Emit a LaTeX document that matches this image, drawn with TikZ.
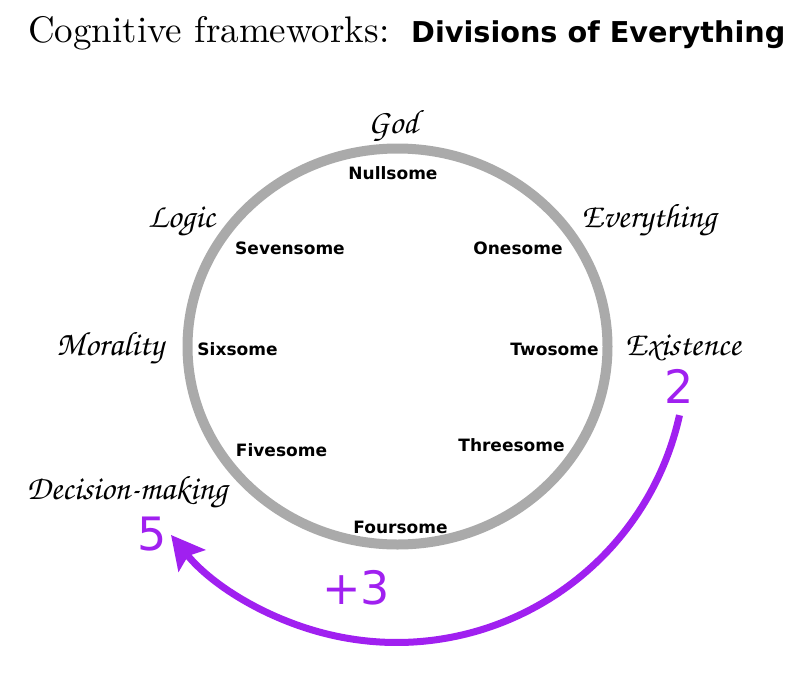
\documentclass[tikz,border=0pt]{standalone}
\usepackage[T1]{fontenc}
\usepackage{fontspec}
\usepackage{tikz}
\usetikzlibrary{arrows.meta, positioning}
\newfontfamily\dejavu{DejaVu Sans}
\newfontfamily\lmten{lmroman10-regular.otf}
\newcommand\chancery{\fontencoding{T1}\fontfamily{pzc}\fontseries{mb}\fontshape{it}\selectfont}
\definecolor{ringgray}{HTML}{AAAAAA}
\definecolor{stepviolet}{HTML}{A020F0}

\begin{document}
\begin{tikzpicture}[
      x=1pt, y=-1pt,
      part/.style={inner sep=0pt, anchor=base, font=\dejavu\bfseries\fontsize{17}{20}\selectfont},
      field/.style={inner sep=0pt, anchor=base, font=\chancery\fontsize{34}{40}\selectfont},
      num/.style={inner sep=0pt, anchor=base, text=stepviolet, font=\dejavu\fontsize{46}{52}\selectfont},
      arrow/.style={-{Stealth[length=33pt, width=34pt, inset=6pt]}, line width=7pt, stepviolet}
    ]
    \useasboundingbox (0,0) rectangle (800,683);

    % Title
    \node[inner sep=0pt, anchor=base west, font=\lmten\fontsize{37}{42}\selectfont] (title) at (28,42) {Cognitive frameworks:};
    \node[inner sep=0pt, anchor=base west, font=\dejavu\bfseries\fontsize{28.7}{34}\selectfont] (subtitle) at (411,42) {Divisions of Everything};

    % Ring
    \draw[ringgray, line width=10pt] (397.5,346.5) ellipse [x radius=210, y radius=198];

    % Divisions
    \node[part] (null) at (393,179) {Nullsome};
    \node[part] (one) at (518,254) {Onesome};
    \node[part] (two) at (554.5,355) {Twosome};
    \node[part] (three) at (511.5,451) {Threesome};
    \node[part] (four) at (400.5,533) {Foursome};
    \node[part] (five) at (281.5,456) {Fivesome};
    \node[part] (six) at (237.5,355) {Sixsome};
    \node[part] (seven) at (290,254) {Sevensome};

    % Fields
    \node[field] (god) at (393,133) {God};
    \node[field] (everything) at (649,227) {Everything};
    \node[field] (existence) at (683,355) {Existence};
    \node[field] (decision) at (127,499) {Decision-making};
    \node[field] (morality) at (110,355) {Morality};
    \node[field] (logic) at (181.5,227) {Logic};

    % Step
    \node[num] (from) at (679.5,403) {2};
    \node[num] (to) at (152.5,550) {5};
    \node[num] (plus) at (356,604) {+3};
    \coordinate[below=12pt of from] (arcstart);
    \draw[arrow] (arcstart) arc[start angle=12.5, end angle=141, radius=290];

\end{tikzpicture}
\end{document}
